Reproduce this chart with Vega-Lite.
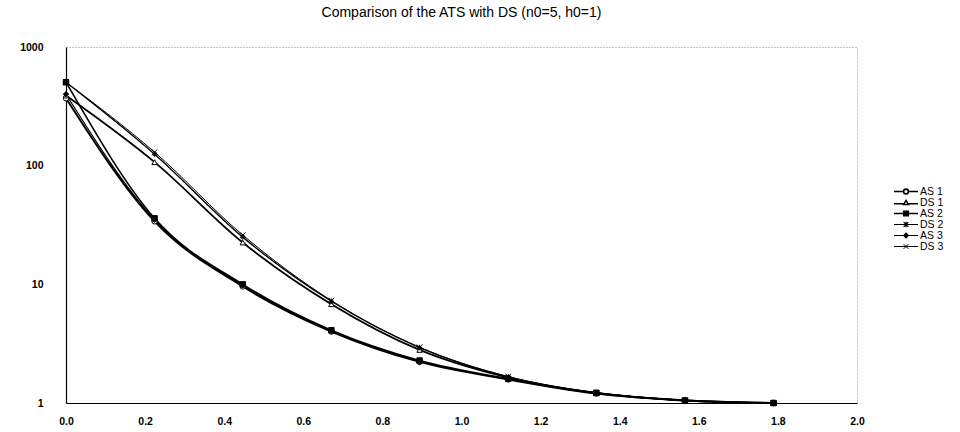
{
  "$schema": "https://vega.github.io/schema/vega-lite/v6.json",
  "autosize": {"type": "none"},
  "padding": {"left": 66, "top": 47, "right": 103, "bottom": 29},
  "width": 791,
  "height": 356,
  "background": "white",
  "config": {
    "font": "Liberation Sans",
    "view": {"stroke": "#8a8a8a", "strokeDash": [1, 2], "strokeWidth": 1},
    "legend": {
      "orient": "none",
      "legendX": 827,
      "legendY": 139,
      "padding": 0,
      "symbolSize": 576,
      "clipHeight": 11,
      "rowPadding": 0,
      "labelOffset": 1,
      "labelFontSize": 10.5,
      "labelFont": "Liberation Sans",
      "labelColor": "black",
      "symbolStrokeColor": "black",
      "symbolOpacity": 1,
      "title": null
    }
  },
  "title": {
    "text": "Comparison of the ATS with DS (n0=5, h0=1)",
    "anchor": "middle",
    "frame": "group",
    "fontSize": 14,
    "fontWeight": "normal",
    "font": "Liberation Sans",
    "color": "black",
    "baseline": "bottom",
    "offset": 8
  },
  "data": {
    "values": [
      {"x": 0, "series": "AS 1", "y": 370},
      {"x": 0.224, "series": "AS 1", "y": 34},
      {"x": 0.447, "series": "AS 1", "y": 9.6},
      {"x": 0.671, "series": "AS 1", "y": 4.0},
      {"x": 0.894, "series": "AS 1", "y": 2.22},
      {"x": 1.118, "series": "AS 1", "y": 1.58},
      {"x": 1.341, "series": "AS 1", "y": 1.2},
      {"x": 1.565, "series": "AS 1", "y": 1.05},
      {"x": 1.789, "series": "AS 1", "y": 1.0},
      {"x": 0, "series": "DS 1", "y": 390},
      {"x": 0.224, "series": "DS 1", "y": 107},
      {"x": 0.447, "series": "DS 1", "y": 22.5},
      {"x": 0.671, "series": "DS 1", "y": 6.8},
      {"x": 0.894, "series": "DS 1", "y": 2.8},
      {"x": 1.118, "series": "DS 1", "y": 1.64},
      {"x": 1.341, "series": "DS 1", "y": 1.21},
      {"x": 1.565, "series": "DS 1", "y": 1.05},
      {"x": 1.789, "series": "DS 1", "y": 1.0},
      {"x": 0, "series": "AS 2", "y": 505},
      {"x": 0.224, "series": "AS 2", "y": 36},
      {"x": 0.447, "series": "AS 2", "y": 10.0},
      {"x": 0.671, "series": "AS 2", "y": 4.1},
      {"x": 0.894, "series": "AS 2", "y": 2.28},
      {"x": 1.118, "series": "AS 2", "y": 1.6},
      {"x": 1.341, "series": "AS 2", "y": 1.22},
      {"x": 1.565, "series": "AS 2", "y": 1.05},
      {"x": 1.789, "series": "AS 2", "y": 1.0},
      {"x": 0, "series": "DS 2", "y": 505},
      {"x": 0.224, "series": "DS 2", "y": 125},
      {"x": 0.447, "series": "DS 2", "y": 25},
      {"x": 0.671, "series": "DS 2", "y": 7.2},
      {"x": 0.894, "series": "DS 2", "y": 2.93},
      {"x": 1.118, "series": "DS 2", "y": 1.66},
      {"x": 1.341, "series": "DS 2", "y": 1.22},
      {"x": 1.565, "series": "DS 2", "y": 1.05},
      {"x": 1.789, "series": "DS 2", "y": 1.0},
      {"x": 0, "series": "AS 3", "y": 400},
      {"x": 0.224, "series": "AS 3", "y": 35},
      {"x": 0.447, "series": "AS 3", "y": 9.8},
      {"x": 0.671, "series": "AS 3", "y": 4.05},
      {"x": 0.894, "series": "AS 3", "y": 2.25},
      {"x": 1.118, "series": "AS 3", "y": 1.59},
      {"x": 1.341, "series": "AS 3", "y": 1.21},
      {"x": 1.565, "series": "AS 3", "y": 1.05},
      {"x": 1.789, "series": "AS 3", "y": 1.0},
      {"x": 0, "series": "DS 3", "y": 505},
      {"x": 0.224, "series": "DS 3", "y": 130},
      {"x": 0.447, "series": "DS 3", "y": 26},
      {"x": 0.671, "series": "DS 3", "y": 7.3},
      {"x": 0.894, "series": "DS 3", "y": 2.95},
      {"x": 1.118, "series": "DS 3", "y": 1.67},
      {"x": 1.341, "series": "DS 3", "y": 1.22},
      {"x": 1.565, "series": "DS 3", "y": 1.05},
      {"x": 1.789, "series": "DS 3", "y": 1.0}
    ]
  },
  "encoding": {
    "x": {
      "field": "x", "type": "quantitative",
      "scale": {"domain": [0, 2], "nice": false, "zero": false},
      "axis": {
        "title": null, "values": [0, 0.2, 0.4, 0.6, 0.8, 1.0, 1.2, 1.4, 1.6, 1.8, 2.0],
        "format": ".1f", "grid": false, "ticks": false,
        "domainColor": "black", "domainWidth": 1.2,
        "labelColor": "black", "labelFontSize": 10.5, "labelFontWeight": "bold",
        "labelPadding": 13, "labelDx": -4,
        "labelFlush": false, "labelOverlap": false
      }
    },
    "y": {
      "field": "y", "type": "quantitative",
      "scale": {"type": "log", "domain": [1, 1000], "nice": false},
      "axis": {
        "title": null, "values": [1, 10, 100, 1000], "format": "d",
        "grid": false, "ticks": false,
        "domainColor": "black", "domainWidth": 1.2,
        "labelColor": "black", "labelFontSize": 10.5, "labelFontWeight": "bold",
        "labelPadding": 23,
        "labelFlush": false, "labelOverlap": false
      }
    }
  },
  "layer": [
    {
      "mark": {"type": "line", "interpolate": "monotone", "color": "black"},
      "encoding": {
        "detail": {"field": "series", "type": "nominal"},
        "strokeWidth": {
          "field": "series", "type": "nominal",
          "scale": {"domain": ["AS 1", "DS 1", "AS 2", "DS 2", "AS 3", "DS 3"], "range": [2, 1, 2, 1, 2, 1]},
          "legend": null
        }
      }
    },
    {
      "mark": {"type": "point", "filled": false, "stroke": "black", "strokeWidth": 1, "size": 30, "opacity": 1},
      "encoding": {
        "shape": {
          "field": "series", "type": "nominal",
          "scale": {
            "domain": ["AS 1", "DS 1", "AS 2", "DS 2", "AS 3", "DS 3"],
            "range": ["circle", "triangle-up", "square",
              "M-1,0H1M0,-1V1M-0.7,-0.7L0.7,0.7M-0.7,0.7L0.7,-0.7",
              "diamond",
              "M-1,-1L1,1M-1,1L1,-1"]
          },
          "legend": null
        },
        "fill": {
          "field": "series", "type": "nominal",
          "scale": {
            "domain": ["AS 1", "DS 1", "AS 2", "DS 2", "AS 3", "DS 3"],
            "range": ["white", "white", "black", "transparent", "black", "transparent"]
          },
          "legend": null
        }
      }
    },
    {
      "mark": {"type": "point", "filled": false, "stroke": "black", "opacity": 0},
      "encoding": {
        "shape": {
          "field": "series", "type": "nominal",
          "scale": {
            "domain": ["AS 1", "DS 1", "AS 2", "DS 2", "AS 3", "DS 3"],
            "range": [
              "M-1,0H-0.22M0.22,0H1M0.2,0A0.2,0.2 0 1,1 -0.2,0A0.2,0.2 0 1,1 0.2,0Z",
              "M-1,0.1H-0.2M0.2,0.1H1M0,-0.18L0.2,0.16L-0.2,0.16Z",
              "M-1,0H1M-0.2,-0.2H0.2V0.2H-0.2Z",
              "M-1,0H1M-0.2,-0.2L0.2,0.2M-0.2,0.2L0.2,-0.2M0,-0.22V0.22",
              "M-1,0H1M0,-0.2L0.2,0L0,0.2L-0.2,0Z",
              "M-1,0H1M-0.2,-0.2L0.2,0.2M-0.2,0.2L0.2,-0.2"
            ]
          },
          "legend": {"title": null, "encode": {"symbols": {"update": {"opacity": {"value": 1}}}}}
        },
        "fill": {
          "field": "series", "type": "nominal",
          "scale": {
            "domain": ["AS 1", "DS 1", "AS 2", "DS 2", "AS 3", "DS 3"],
            "range": ["white", "white", "black", "white", "black", "white"]
          },
          "legend": {"title": null, "encode": {"symbols": {"update": {"opacity": {"value": 1}}}}}
        },
        "strokeWidth": {
          "field": "series", "type": "nominal",
          "scale": {"domain": ["AS 1", "DS 1", "AS 2", "DS 2", "AS 3", "DS 3"], "range": [1.6, 1, 1.6, 1, 1.6, 1]},
          "legend": {"title": null, "encode": {"symbols": {"update": {"opacity": {"value": 1}}}}}
        }
      }
    }
  ],
  "resolve": {
    "scale": {"shape": "independent", "fill": "independent", "strokeWidth": "independent"},
    "legend": {"shape": "independent", "fill": "independent", "strokeWidth": "independent"}
  }
}
